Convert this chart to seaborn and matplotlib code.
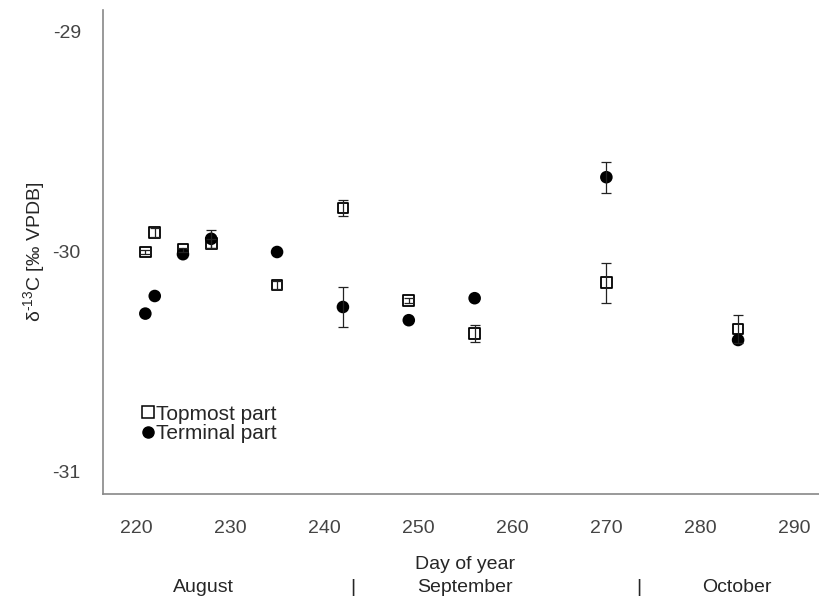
import numpy as np
import pandas as pd
import matplotlib
matplotlib.use("Agg")
import matplotlib.pyplot as plt
import seaborn as sns
from matplotlib.lines import Line2D

# Sampling days and δ13C values for the two needle positions
days = [221, 222, 225, 228, 235, 242, 249, 256, 270, 284]
topmost = [-30.00, -29.91, -29.99, -29.96, -30.15, -29.80, -30.22, -30.37, -30.14, -30.35]
topmost_err = [0.01, 0.02, 0.01, 0.02, 0.02, 0.035, 0.01, 0.04, 0.09, 0.065]
terminal = [-30.28, -30.20, -30.01, -29.94, -30.00, -30.25, -30.31, -30.21, -29.66, -30.40]
terminal_err = [0.0, 0.0, 0.0, 0.04, 0.0, 0.09, 0.0, 0.0, 0.07, 0.0]

series_names = ["Topmost part", "Terminal part"]
x_ticks = [220, 230, 240, 250, 260, 270, 280, 290]
y_ticks = [-29, -30, -31]
months = ["August", "September", "October"]
month_centres = [227.2, 255.0, 283.9]
month_bounds = [243.0, 273.4]

df = pd.DataFrame({
    "day": days * 2,
    "d13C": topmost + terminal,
    "err": topmost_err + terminal_err,
    "part": [series_names[0]] * len(days) + [series_names[1]] * len(days),
})

sns.set_theme(style="white")
plt.rcParams["font.family"] = ["Liberation Sans", "DejaVu Sans"]
plt.rcParams["mathtext.fontset"] = "custom"
plt.rcParams["mathtext.rm"] = "Liberation Sans"
plt.rcParams["mathtext.it"] = "Liberation Sans"

fig = plt.figure(figsize=(8.19, 5.99), dpi=100)
ax = fig.add_axes([103 / 819, 1 - 494 / 599, 1 - 103 / 819, 484 / 599])

sns.scatterplot(
    data=df, x="day", y="d13C", style="part", hue="part",
    markers={series_names[0]: "s", series_names[1]: "o"},
    palette={series_names[0]: "white", series_names[1]: "black"},
    edgecolor="black", linewidth=1.3, s=60, legend=False, ax=ax, zorder=2,
)

for name in series_names:
    sub = df[df["part"] == name]
    sub = sub[sub["err"] > 0]
    ax.errorbar(sub["day"], sub["d13C"], yerr=sub["err"], fmt="none",
                ecolor="#222222", elinewidth=0.9, capsize=3.5, capthick=0.9, zorder=3)

ax.set_xlim(216.5, 292.6)
ax.set_ylim(-31.1, -28.9)
ax.set_xticks(x_ticks)
ax.set_yticks(y_ticks)
ax.set_yticklabels([str(v) for v in y_ticks])

for side in ["top", "right"]:
    ax.spines[side].set_visible(False)
for side in ["left", "bottom"]:
    ax.spines[side].set_color("#888888")
    ax.spines[side].set_linewidth(1.2)
ax.tick_params(axis="both", direction="out", length=6, width=1, color="#888888",
               labelsize=14, labelcolor="#444444")
ax.tick_params(axis="x", pad=13)
ax.tick_params(axis="y", pad=10)

ax.set_xlabel("")
ax.set_ylabel(r"δ$^{\text{-}13}$C [‰ VPDB]", fontsize=14, labelpad=4)

trans = ax.get_xaxis_transform()
ax.text(255.0, -0.145, "Day of year", transform=trans, ha="center", va="center", fontsize=14)
for name, c in zip(months, month_centres):
    ax.text(c, -0.194, name, transform=trans, ha="center", va="center", fontsize=14)
for b in month_bounds:
    ax.text(b, -0.194, "|", transform=trans, ha="center", va="center", fontsize=14)

# Legend in the lower-left corner
handles = [
    Line2D([], [], ls="none", marker="s", markersize=8, markerfacecolor="white",
           markeredgecolor="black", markeredgewidth=1.1),
    Line2D([], [], ls="none", marker="o", markersize=8, markerfacecolor="black",
           markeredgecolor="black"),
]
ax.legend(handles, series_names, loc="upper left", bbox_to_anchor=(0.042, 0.202),
          frameon=False, handlelength=0.6, handletextpad=0.1, labelspacing=0.02,
          borderaxespad=0, fontsize=15)

fig.savefig("out.png", dpi=100)
